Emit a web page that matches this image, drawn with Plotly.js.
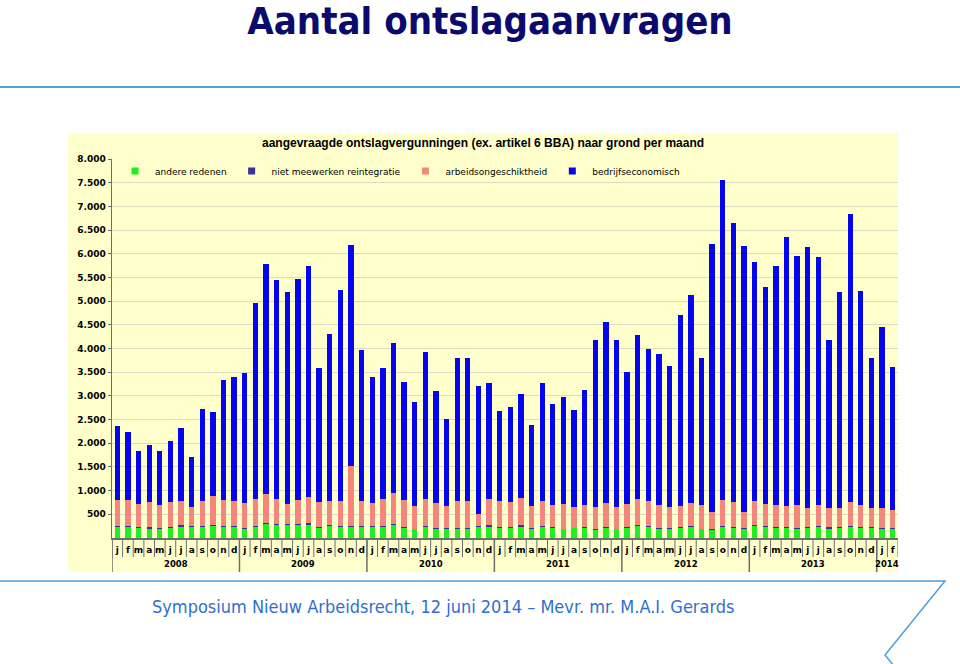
<!DOCTYPE html>
<html>
<head>
<meta charset="utf-8">
<script src="https://cdn.plot.ly/plotly-3.0.1.min.js"></script>
<style>html,body{margin:0;padding:0;background:#fff;}#chart{width:960px;height:664px;}</style>
</head>
<body>
<div id="chart"></div>
<script>
// ---- data ----
const yearLabels = ['2008','2009','2010','2011','2012','2013','2014'];
const monthLetters = ['j','f','m','a','m','j','j','a','s','o','n','d'];
const monthsPerYear = [12,12,12,12,12,12,2];

const andereRedenen = [225,235,215,200,195,215,240,225,230,245,230,235,
  195,230,290,270,265,275,285,215,255,230,230,240,
  235,230,280,215,180,235,195,190,195,195,235,230,
  205,210,240,195,230,210,185,205,205,175,220,185,
  205,245,240,185,195,215,225,185,175,230,220,195,
  255,240,220,205,195,215,230,195,205,230,210,210,
  195,195];
const nietMeewerken = [25,20,20,30,15,20,30,30,15,25,25,20,
  15,20,30,25,25,25,35,20,25,20,20,20,
  20,25,25,20,15,25,25,25,25,25,15,35,
  20,15,30,15,25,15,15,15,20,15,20,15,
  20,20,20,20,15,15,20,15,15,15,20,15,
  30,20,20,20,15,15,20,30,20,15,15,15,
  20,20];
const arbeidsongeschiktheid = [548,543,486,526,497,521,507,403,539,627,550,529,
  539,577,605,532,431,498,542,521,511,541,1280,517,
  494,572,648,563,477,570,522,471,557,557,255,565,
  553,540,566,460,535,475,526,440,470,464,498,461,
  499,557,520,498,437,445,493,503,351,549,526,331,
  488,464,449,450,479,410,453,408,415,521,464,415,
  411,383];
const bedrijfseconomisch = [1571,1438,1121,1198,1121,1290,1536,1043,1930,1760,2520,2604,
  2731,4143,4866,4627,4466,4663,4872,2836,3518,4445,4653,3193,
  2639,2751,3153,2493,2203,3086,2365,1831,3033,3033,2708,2432,
  1893,1998,2208,1706,2486,2126,2241,2047,2426,3529,3832,3508,
  2777,3473,3199,3171,2994,4028,4386,3100,5670,6757,5880,5628,
  5053,4569,5045,5677,5256,5494,5228,3536,4561,6063,4519,3163,
  3824,3008];
const yTickVals = [500,1000,1500,2000,2500,3000,3500,4000,4500,5000,5500,6000,6500,7000,7500,8000];
const yTickText = ['500','1.000','1.500','2.000','2.500','3.000','3.500','4.000','4.500','5.000','5.500','6.000','6.500','7.000','7.500','8.000'];

const seriesNames = ['andere redenen','niet meewerken reintegratie','arbeidsongeschiktheid','bedrijfseconomisch'];
const seriesColors = ['#1fee1f','#343499','#f5867e','#0606ec'];

// ---- category positions derived from the data order ----
const idx = andereRedenen.map((_, i) => i);
const monthText = [];
const yearStart = [];
let c = 0;
monthsPerYear.forEach(n => { yearStart.push(c); for (let m = 0; m < n; m++) monthText.push(monthLetters[m]); c += n; });
const N = idx.length;

const values = [andereRedenen, nietMeewerken, arbeidsongeschiktheid, bedrijfseconomisch];
const traces = values.map((v, i) => ({
  type: 'bar', x: idx, y: v, name: seriesNames[i],
  marker: {color: seriesColors[i], line: {width: 0}},
  showlegend: false, hoverinfo: 'skip'
}));
seriesNames.forEach((n, i) => traces.push({
  type: 'scatter', mode: 'markers', x: [null], y: [null], name: n,
  marker: {symbol: 'square', size: 7, color: seriesColors[i]},
  showlegend: true, hoverinfo: 'skip'
}));

const L = 112, R = 898, T = 159, B = 538;
const px = x => (x - L) / (R - L);
const py = y => (B - y) / (B - T);
const axisGrey = '#6e6e6e';

const shapes = [
  {type: 'rect', xref: 'paper', yref: 'paper', x0: px(68), x1: px(898), y0: py(572), y1: py(133),
    fillcolor: '#ffffcc', line: {width: 0}, layer: 'below'},
  {type: 'line', xref: 'paper', yref: 'paper', x0: px(0), x1: px(960), y0: py(87), y1: py(87),
    line: {color: '#4d9fdb', width: 2}},
  {type: 'path', xref: 'paper', yref: 'paper',
    path: 'M' + px(0) + ',' + py(581) + ' L' + px(945) + ',' + py(581) + ' L' + px(885) + ',' + py(655) + ' L' + px(915) + ',' + py(692),
    line: {color: '#4d9fdb', width: 1.5}}
];
// month separators
for (let i = 0; i <= N; i++) {
  shapes.push({type: 'line', xref: 'x', yref: 'paper', x0: i - 0.5, x1: i - 0.5, y0: py(538), y1: py(557),
    line: {color: axisGrey, width: 1}});
}
// year dividers
yearStart.forEach(s => shapes.push({type: 'line', xref: 'x', yref: 'paper', x0: s - 0.5, x1: s - 0.5,
  y0: py(538), y1: py(572), line: {color: axisGrey, width: 1.5}}));

const annotations = [
  {text: 'aangevraagde ontslagvergunningen (ex. artikel 6 BBA) naar grond per maand',
    xref: 'paper', yref: 'paper', x: px(483), y: py(143), xanchor: 'center', yanchor: 'middle',
    showarrow: false, font: {family: 'Liberation Sans', size: 12, weight: 'bold', color: '#000'}},
  {text: 'Symposium Nieuw Arbeidsrecht, 12 juni 2014 \u2013 Mevr. mr. M.A.I. Gerards',
    xref: 'paper', yref: 'paper', x: px(150), y: py(606), xanchor: 'left', yanchor: 'middle',
    showarrow: false, font: {family: 'DejaVu Sans Condensed', size: 18, color: '#2f6fcf'}}
];
yearLabels.forEach((yr, yi) => annotations.push({
  text: yr, xref: 'x', yref: 'paper', x: yearStart[yi] + (monthsPerYear[yi] - 1) / 2, y: py(564),
  xanchor: 'center', yanchor: 'middle', showarrow: false,
  font: {family: 'DejaVu Sans', size: 8.5, weight: 'bold', color: '#000'}
}));

const layout = {
  width: 960, height: 664,
  margin: {l: L, r: 960 - R, t: T, b: 664 - B, pad: 0},
  paper_bgcolor: '#ffffff', plot_bgcolor: '#ffffcc',
  barmode: 'stack', bargap: 0.5,
  font: {family: 'DejaVu Sans', size: 9, color: '#000'},
  title: {text: 'Aantal ontslagaanvragen', xref: 'container', yref: 'container',
    x: 490/960, y: 1 - 21/664, xanchor: 'center', yanchor: 'middle',
    font: {family: 'DejaVu Sans Condensed', size: 38, weight: 'bold', color: '#0b0b6e'}},
  xaxis: {type: 'linear', range: [-0.5, N - 0.5], tickmode: 'array', tickvals: idx, ticktext: monthText,
    showline: true, linecolor: axisGrey, linewidth: 1.5, ticks: '', tickangle: 0, ticklabelstandoff: 3,
    showgrid: false, zeroline: false, fixedrange: true,
    tickfont: {family: 'DejaVu Sans', size: 9, weight: 'bold', color: '#000'}},
  yaxis: {range: [0, 8000], tickmode: 'array', tickvals: yTickVals, ticktext: yTickText,
    showline: true, linecolor: axisGrey, linewidth: 1.5, ticks: 'outside', ticklen: 3, tickcolor: axisGrey,
    gridcolor: '#dcdcc6', gridwidth: 1, zeroline: false,
    tickfont: {family: 'DejaVu Sans', size: 9, weight: 'bold', color: '#000'}},
  legend: {orientation: 'h', x: px(115), y: py(171), xanchor: 'left', yanchor: 'middle',
    traceorder: 'normal',
    bgcolor: 'rgba(0,0,0,0)', font: {family: 'DejaVu Sans', size: 9, color: '#000'},
    itemwidth: 30, tracegroupgap: 0},
  annotations: annotations,
  shapes: shapes
};

Plotly.newPlot('chart', traces, layout, {displayModeBar: false, staticPlot: true});
</script>
</body>
</html>
